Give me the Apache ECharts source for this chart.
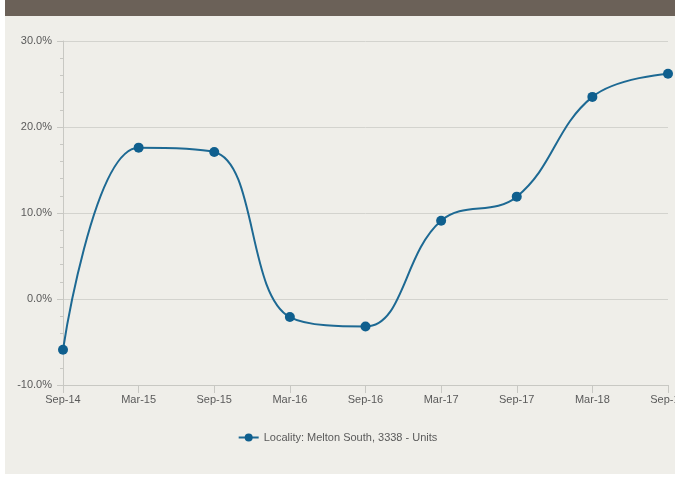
<!DOCTYPE html>
<html>
<head>
<meta charset="utf-8">
<script src="https://cdn.jsdelivr.net/npm/echarts@6/dist/echarts.min.js"></script>
<style>
  html, body { margin: 0; padding: 0; background: #ffffff; }
  .panel {
    position: absolute; left: 5px; top: 0; width: 670px; height: 474px;
    background: #efeee9;
  }
  .header {
    position: absolute; left: 0; top: 0; width: 100%; height: 16px;
    background: #6b6158;
  }
  #chart { position: absolute; left: 0; top: 0; width: 675px; height: 477px; }
</style>
</head>
<body>
<div class="panel"><div class="header"></div></div>
<div id="chart"></div>
<script>
// 类目（半年）
const categories = ['Sep-14', 'Mar-15', 'Sep-15', 'Mar-16', 'Sep-16', 'Mar-17', 'Sep-17', 'Mar-18', 'Sep-18']
// 增长率 (%)
const growthValues = [-5.9, 17.6, 17.1, -2.1, -3.2, 9.1, 11.9, 23.5, 26.2]
const seriesName = 'Locality: Melton South, 3338 - Units'

const chart = echarts.init(document.getElementById('chart'))

const axisText = { color: '#5a5a5a', fontSize: 11, fontFamily: 'Liberation Sans, Arial, sans-serif' }

const option = {
  backgroundColor: 'transparent',
  animation: false,
  grid: { left: 63, right: 7, top: 41, bottom: 92, containLabel: false, outerBoundsMode: 'none' },
  legend: {
    data: [seriesName],
    bottom: 29,
    left: 'center',
    itemWidth: 20,
    itemHeight: 10,
    textStyle: { color: '#5a5a5a', fontSize: 11, fontFamily: 'Liberation Sans, Arial, sans-serif' }
  },
  xAxis: {
    type: 'category',
    data: categories,
    boundaryGap: false,
    axisLine: { onZero: false, lineStyle: { color: '#c8c8c3' } },
    axisTick: { alignWithLabel: true, length: 8, lineStyle: { color: '#c8c8c3' } },
    axisLabel: Object.assign({ margin: 9 }, axisText),
    splitLine: { show: false }
  },
  yAxis: {
    type: 'value',
    min: -10,
    max: 30,
    interval: 10,
    axisLine: { show: true, lineStyle: { color: '#c8c8c3' } },
    axisTick: { show: true, length: 6, lineStyle: { color: '#c8c8c3' } },
    minorTick: { show: true, splitNumber: 5, length: 3, lineStyle: { color: '#c8c8c3' } },
    axisLabel: Object.assign({ margin: 11, formatter: v => v.toFixed(1) + '%' }, axisText),
    splitLine: { lineStyle: { color: '#d3d3ce' } }
  },
  series: [
    {
      name: seriesName,
      type: 'line',
      data: growthValues,
      smooth: 0.4,
      symbol: 'circle',
      symbolSize: 10,
      itemStyle: { color: '#0f5f8e' },
      lineStyle: { color: '#1d6993', width: 2 }
    }
  ]
}

chart.setOption(option)
</script>
</body>
</html>
